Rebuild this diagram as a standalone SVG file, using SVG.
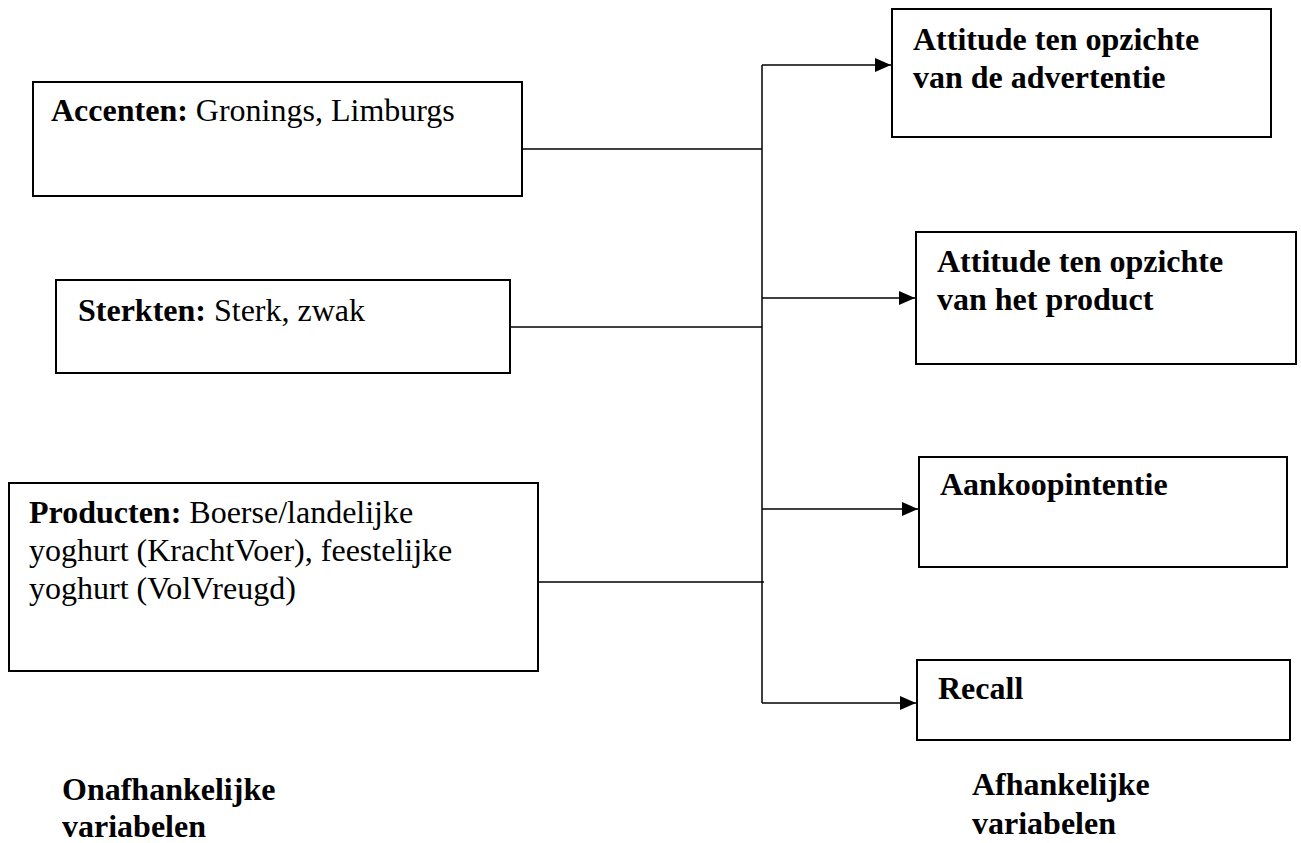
<svg xmlns="http://www.w3.org/2000/svg" width="1301" height="843" viewBox="0 0 1301 843">
<style>
.box{fill:#fff;stroke:#000;stroke-width:2}
.t{font-family:"Liberation Serif","Times New Roman",serif;font-size:32px;fill:#000}
.b{font-weight:bold}
.c{stroke:#000;stroke-width:1.5;fill:none}
</style>
<defs>
<marker id="ah" markerWidth="16" markerHeight="14" refX="16" refY="7" orient="auto" markerUnits="userSpaceOnUse" viewBox="0 0 16 14">
<path d="M0,0 L16,7 L0,14 z" fill="#000"/>
</marker>
</defs>
<rect width="1301" height="843" fill="#fff"/>
<g id="connectors">
<line class="c" x1="522" y1="149" x2="762" y2="149"/>
<line class="c" x1="510" y1="327" x2="762" y2="327"/>
<line class="c" x1="538" y1="582" x2="764" y2="582"/>
<line class="c" x1="762" y1="65" x2="762" y2="703"/>
<line class="c" x1="762" y1="65" x2="891" y2="65" marker-end="url(#ah)"/>
<line class="c" x1="762" y1="298" x2="915" y2="298" marker-end="url(#ah)"/>
<line class="c" x1="762" y1="509" x2="918" y2="509" marker-end="url(#ah)"/>
<line class="c" x1="762" y1="703" x2="916" y2="703" marker-end="url(#ah)"/>
</g>
<g id="n-accenten">
<rect class="box" x="33" y="82" width="489" height="114"/>
<text class="t" x="51" y="121"><tspan class="b">Accenten:</tspan> Gronings, Limburgs</text>
</g>
<g id="n-sterkten">
<rect class="box" x="56" y="280" width="454" height="93"/>
<text class="t" x="78" y="321"><tspan class="b">Sterkten:</tspan> Sterk, zwak</text>
</g>
<g id="n-producten">
<rect class="box" x="9" y="483" width="529" height="188"/>
<text class="t" x="29" y="523"><tspan class="b">Producten:</tspan> Boerse/landelijke</text>
<text class="t" x="29" y="561">yoghurt (KrachtVoer), feestelijke</text>
<text class="t" x="29" y="599">yoghurt (VolVreugd)</text>
</g>
<g id="n-att-adv">
<rect class="box" x="892" y="9" width="379" height="128"/>
<text class="t b" x="913" y="50">Attitude ten opzichte</text>
<text class="t b" x="913" y="88">van de advertentie</text>
</g>
<g id="n-att-prod">
<rect class="box" x="916" y="232" width="380" height="132"/>
<text class="t b" x="937" y="272">Attitude ten opzichte</text>
<text class="t b" x="937" y="310">van het product</text>
</g>
<g id="n-aankoop">
<rect class="box" x="919" y="457" width="368" height="110"/>
<text class="t b" x="940" y="495">Aankoopintentie</text>
</g>
<g id="n-recall">
<rect class="box" x="917" y="660" width="373" height="80"/>
<text class="t b" x="938" y="699">Recall</text>
</g>
<g id="labels">
<text class="t b" x="62" y="800">Onafhankelijke</text>
<text class="t b" x="62" y="837">variabelen</text>
<text class="t b" x="972" y="795">Afhankelijke</text>
<text class="t b" x="972" y="834">variabelen</text>
</g>
</svg>
